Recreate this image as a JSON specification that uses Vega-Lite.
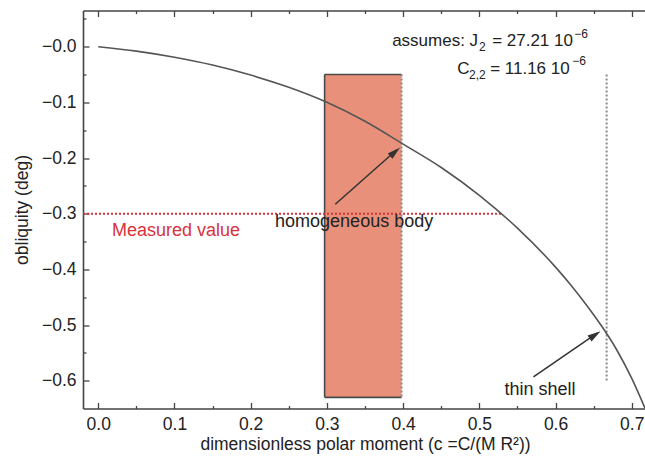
{
  "$schema": "https://vega.github.io/schema/vega-lite/v6.json",
  "width": 564,
  "height": 398,
  "autosize": {"type": "none"},
  "padding": {"left": 83, "top": 10.5, "right": 0, "bottom": 51},
  "background": "white",
  "config": {
    "view": {"stroke": null},
    "font": "Liberation Sans",
    "axis": {
      "domainColor": "#444",
      "domainWidth": 1.6,
      "tickColor": "#444",
      "tickWidth": 1.3,
      "grid": false,
      "labelFont": "Liberation Sans",
      "titleFont": "Liberation Sans",
      "labelFontSize": 17.5,
      "titleFontSize": 17.5,
      "labelColor": "#222",
      "titleColor": "#222",
      "titleFontWeight": "normal"
    }
  },
  "datasets": {
    "curve": [
      {"c": 0.0, "o": 0.0},
      {"c": 0.05, "o": -0.008},
      {"c": 0.1, "o": -0.019},
      {"c": 0.15, "o": -0.033},
      {"c": 0.2, "o": -0.051},
      {"c": 0.25, "o": -0.073},
      {"c": 0.3, "o": -0.1},
      {"c": 0.35, "o": -0.134},
      {"c": 0.4, "o": -0.175},
      {"c": 0.45, "o": -0.217},
      {"c": 0.5, "o": -0.267},
      {"c": 0.55, "o": -0.326},
      {"c": 0.6, "o": -0.396},
      {"c": 0.62, "o": -0.428},
      {"c": 0.64, "o": -0.463},
      {"c": 0.66, "o": -0.501},
      {"c": 0.68, "o": -0.544},
      {"c": 0.7, "o": -0.596},
      {"c": 0.72, "o": -0.658}
    ],
    "box": [{"c": 0.297, "c2": 0.398, "o": -0.05, "o2": -0.63}],
    "borders": [
      {"c": 0.297, "c2": 0.297, "o": -0.05, "o2": -0.63},
      {"c": 0.297, "c2": 0.398, "o": -0.05, "o2": -0.05},
      {"c": 0.297, "c2": 0.398, "o": -0.63, "o2": -0.63}
    ],
    "dotted": [
      {"c": 0.398, "o": -0.05, "o2": -0.63},
      {"c": 0.667, "o": -0.05, "o2": -0.6}
    ],
    "measured": [{"c": -0.02, "c2": 0.531, "o": -0.3}],
    "arrows": [
      {"c": 0.311, "o": -0.283, "c2": 0.391, "o2": -0.186},
      {"c": 0.571, "o": -0.593, "c2": 0.655, "o2": -0.514}
    ],
    "labels": [
      {"c": 0.232, "o": -0.324, "text": "homogeneous body"},
      {"c": 0.533, "o": -0.626, "text": "thin shell"}
    ],
    "noteBig": [
      {"c": 0.3856, "o": 0.0018, "text": "assumes: J"},
      {"c": 0.5168, "o": 0.0018, "text": "= 27.21 10"},
      {"c": 0.4709, "o": -0.049, "text": "C"},
      {"c": 0.5142, "o": -0.049, "text": "= 11.16 10"}
    ],
    "noteSmall": [
      {"c": 0.4997, "o": -0.0077, "text": "2"},
      {"c": 0.6244, "o": 0.0156, "text": "−6"},
      {"c": 0.4866, "o": -0.058, "text": "2,2"},
      {"c": 0.6218, "o": -0.0329, "text": "−6"}
    ]
  },
  "resolve": {"axis": {"x": "independent", "y": "independent"}},
  "layer": [
    {
      "data": {"name": "box"},
      "mark": {"type": "rect", "color": "#e8907a", "opacity": 1},
      "encoding": {
        "x": {
          "field": "c", "type": "quantitative",
          "scale": {"domain": [-0.02, 0.72], "nice": false, "zero": false},
          "axis": {
            "orient": "bottom",
            "values": [0, 0.1, 0.2, 0.3, 0.4, 0.5, 0.6, 0.7],
            "format": ".1f",
            "tickSize": -6,
            "labelPadding": 13,
            "title": "dimensionless polar moment (c =C/(M R²))",
            "titlePadding": 2
          }
        },
        "x2": {"field": "c2"},
        "y": {
          "field": "o", "type": "quantitative",
          "scale": {"domain": [-0.65, 0.065], "nice": false, "zero": false},
          "axis": {
            "orient": "left",
            "values": [0, -0.1, -0.2, -0.3, -0.4, -0.5, -0.6],
            "labelExpr": "'\u2212' + format(abs(datum.value), '.1f')",
            "tickSize": -6,
            "labelPadding": 13,
            "title": "obliquity (deg)",
            "titlePadding": 10
          }
        },
        "y2": {"field": "o2"}
      }
    },
    {
      "data": {"name": "borders"},
      "mark": {"type": "rule", "color": "#4a4a4a", "strokeWidth": 1.6},
      "encoding": {
        "x": {
          "field": "c", "type": "quantitative",
          "axis": {
            "orient": "bottom",
            "values": [0.05, 0.15, 0.25, 0.35, 0.45, 0.55, 0.65],
            "labels": false, "domain": false, "tickSize": -3, "title": null
          }
        },
        "x2": {"field": "c2"},
        "y": {
          "field": "o", "type": "quantitative",
          "axis": {
            "orient": "left",
            "values": [0.05, -0.05, -0.15, -0.25, -0.35, -0.45, -0.55],
            "labels": false, "domain": false, "tickSize": -3, "title": null
          }
        },
        "y2": {"field": "o2"}
      }
    },
    {
      "data": {"name": "dotted"},
      "mark": {"type": "rule", "color": "#8a8a8a", "strokeWidth": 2, "strokeDash": [2, 2]},
      "encoding": {
        "x": {
          "field": "c", "type": "quantitative",
          "axis": {
            "orient": "top",
            "values": [0, 0.1, 0.2, 0.3, 0.4, 0.5, 0.6, 0.7],
            "labels": false, "tickSize": -6, "title": null
          }
        },
        "y": {"field": "o", "type": "quantitative", "axis": null},
        "y2": {"field": "o2"}
      }
    },
    {
      "data": {"name": "measured"},
      "mark": {"type": "rule", "color": "#d8323c", "strokeWidth": 2, "strokeDash": [2, 2]},
      "encoding": {
        "x": {
          "field": "c", "type": "quantitative",
          "axis": {
            "orient": "top",
            "values": [0.05, 0.15, 0.25, 0.35, 0.45, 0.55, 0.65],
            "labels": false, "domain": false, "tickSize": -3, "title": null
          }
        },
        "x2": {"field": "c2"},
        "y": {"field": "o", "type": "quantitative", "axis": null}
      }
    },
    {
      "data": {"name": "curve"},
      "mark": {"type": "line", "color": "#555", "strokeWidth": 1.6, "clip": true, "interpolate": "monotone"},
      "encoding": {
        "x": {"field": "c", "type": "quantitative", "axis": null},
        "y": {"field": "o", "type": "quantitative", "axis": null}
      }
    },
    {
      "data": {"name": "arrows"},
      "mark": {"type": "rule", "color": "#333", "strokeWidth": 1.5},
      "encoding": {
        "x": {"field": "c", "type": "quantitative", "axis": null},
        "x2": {"field": "c2"},
        "y": {"field": "o", "type": "quantitative", "axis": null},
        "y2": {"field": "o2"}
      }
    },
    {
      "data": {"values": [{"c": 0.396, "o": -0.181}]},
      "mark": {"type": "point", "shape": "M0,0L0.6,2.2L-0.6,2.2Z", "filled": true, "color": "#333", "opacity": 1, "size": 144, "angle": 49},
      "encoding": {
        "x": {"field": "c", "type": "quantitative", "axis": null},
        "y": {"field": "o", "type": "quantitative", "axis": null}
      }
    },
    {
      "data": {"values": [{"c": 0.659, "o": -0.511}]},
      "mark": {"type": "point", "shape": "M0,0L0.6,2.2L-0.6,2.2Z", "filled": true, "color": "#333", "opacity": 1, "size": 144, "angle": 56},
      "encoding": {
        "x": {"field": "c", "type": "quantitative", "axis": null},
        "y": {"field": "o", "type": "quantitative", "axis": null}
      }
    },
    {
      "data": {"name": "labels"},
      "mark": {"type": "text", "align": "left", "baseline": "alphabetic", "fontSize": 18, "color": "#222", "font": "Liberation Sans"},
      "encoding": {
        "x": {"field": "c", "type": "quantitative", "axis": null},
        "y": {"field": "o", "type": "quantitative", "axis": null},
        "text": {"field": "text"}
      }
    },
    {
      "data": {"values": [{"c": 0.018, "o": -0.341, "text": "Measured value"}]},
      "mark": {"type": "text", "align": "left", "baseline": "alphabetic", "fontSize": 18, "color": "#d8323c", "font": "Liberation Sans"},
      "encoding": {
        "x": {"field": "c", "type": "quantitative", "axis": null},
        "y": {"field": "o", "type": "quantitative", "axis": null},
        "text": {"field": "text"}
      }
    },
    {
      "data": {"name": "noteBig"},
      "mark": {"type": "text", "align": "left", "baseline": "alphabetic", "fontSize": 17, "color": "#222", "font": "Liberation Sans"},
      "encoding": {
        "x": {"field": "c", "type": "quantitative", "axis": null},
        "y": {"field": "o", "type": "quantitative", "axis": null},
        "text": {"field": "text"}
      }
    },
    {
      "data": {"name": "noteSmall"},
      "mark": {"type": "text", "align": "left", "baseline": "alphabetic", "fontSize": 12, "color": "#222", "font": "Liberation Sans"},
      "encoding": {
        "x": {"field": "c", "type": "quantitative", "axis": null},
        "y": {"field": "o", "type": "quantitative", "axis": null},
        "text": {"field": "text"}
      }
    }
  ]
}
